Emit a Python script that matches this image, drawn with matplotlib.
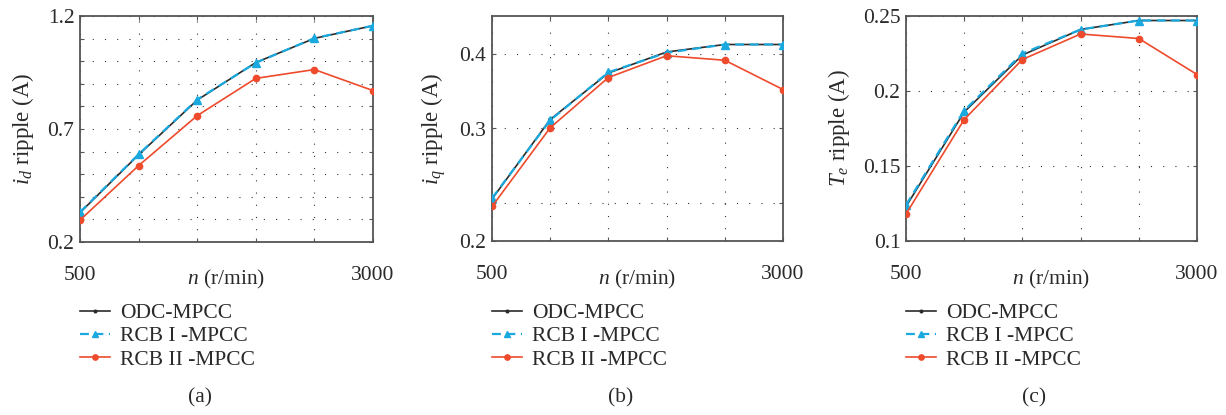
import numpy as np
import matplotlib
matplotlib.use("Agg")
import matplotlib.pyplot as plt

plt.rcParams["font.family"] = ["Liberation Serif", "DejaVu Serif"]
plt.rcParams["mathtext.fontset"] = "custom"
plt.rcParams["mathtext.rm"] = "Liberation Serif"
plt.rcParams["mathtext.it"] = "Liberation Serif:italic"

# speed (r/min)
speed = [500, 1000, 1500, 2000, 2500, 3000]
series_names = ["ODC-MPCC", "RCB I -MPCC", "RCB II -MPCC"]

# (a) i_d ripple
id_odc = [0.330, 0.586, 0.828, 0.994, 1.101, 1.157]
id_rcb1 = [0.332, 0.588, 0.830, 0.993, 1.102, 1.157]
id_rcb2 = [0.297, 0.538, 0.759, 0.924, 0.963, 0.870]

# (b) i_q ripple
iq_odc = [0.206, 0.312, 0.374, 0.402, 0.412, 0.412]
iq_rcb1 = [0.207, 0.311, 0.375, 0.401, 0.412, 0.412]
iq_rcb2 = [0.196, 0.301, 0.368, 0.397, 0.391, 0.352]

# (c) Te ripple
te_odc = [0.123, 0.186, 0.224, 0.241, 0.247, 0.247]
te_rcb1 = [0.124, 0.187, 0.225, 0.241, 0.247, 0.247]
te_rcb2 = [0.118, 0.181, 0.221, 0.238, 0.235, 0.211]

panels = [
    dict(data=(id_odc, id_rcb1, id_rcb2), ylabel=r"$i_d$ ripple (A)", caption="(a)",
         ylim=(0.2, 1.2), yticks=list(np.arange(0.2, 1.201, 0.1)),
         yticklabels=["0.2", "", "", "", "", "0.7", "", "", "", "", "1.2"]),
    dict(data=(iq_odc, iq_rcb1, iq_rcb2), ylabel=r"$i_q$ ripple (A)", caption="(b)",
         ylim=(0.15, 0.45), yticks=[0.15, 0.2, 0.3, 0.4],
         yticklabels=["0.2", "", "0.3", "0.4"]),
    dict(data=(te_odc, te_rcb1, te_rcb2), ylabel=r"$T_e$ ripple (A)", caption="(c)",
         ylim=(0.1, 0.25), yticks=[0.1, 0.15, 0.2, 0.25],
         yticklabels=["0.1", "0.15", "0.2", "0.25"]),
]

W, H = 1226, 415
txt = "#2a2a2a"
spine_c = "#555555"
c_black = "#2b2b2b"
c_blue = "#19a9df"
c_red = "#ee4a2c"
fs = 15.5

# axes boxes in pixels: left, right, top, bottom ; caption x
boxes = [(80, 373, 16, 242, 200), (492, 783, 16, 241, 621), (906, 1197, 16, 241, 1034)]

fig = plt.figure(figsize=(W / 100, H / 100), dpi=100)

for p, (l, r, t, b, capx) in zip(panels, boxes):
    ax = fig.add_axes([l / W, (H - b) / H, (r - l) / W, (b - t) / H])
    odc, rcb1, rcb2 = p["data"]
    h1, = ax.plot(speed, odc, color=c_black, lw=1.2, marker=".", ms=4.5, zorder=3)
    h2, = ax.plot(speed, rcb1, color=c_blue, lw=1.6, ls=(0, (4, 2.5)), marker="^",
                  ms=5.5, mfc=c_blue, mec=c_blue, zorder=4)
    h3, = ax.plot(speed, rcb2, color=c_red, lw=1.2, marker="o", ms=4.5, zorder=5)

    ax.set_xlim(500, 3000)
    ax.set_ylim(*p["ylim"])
    ax.set_xticks(speed)
    ax.set_xticklabels(["500", "", "", "", "", "3000"])
    ax.set_yticks(p["yticks"])
    ax.set_yticklabels(p["yticklabels"])
    ax.tick_params(direction="in", length=3, width=0.8, color=spine_c,
                   top=True, right=True, labelsize=fs, labelcolor=txt)
    ax.tick_params(axis="x", pad=17)
    ax.tick_params(axis="y", pad=4)
    ax.grid(True, color="#333333", lw=0.8, ls=(0, (1, 10)))
    for s in ax.spines.values():
        s.set_color(spine_c)
        s.set_linewidth(1.3)
    ax.set_ylabel(p["ylabel"], fontsize=16.5, color=txt, labelpad=8)

    cx = (l + r) / 2
    fig.text(cx / W, 1 - 279 / H, r"$n$ (r/min)", ha="center", va="center",
             fontsize=fs, color=txt)
    fig.text(capx / W, 1 - 398 / H, p["caption"], ha="center", va="center",
             fontsize=fs, color=txt)
    fig.legend([h1, h2, h3], series_names, loc="upper left",
               bbox_to_anchor=(l / W, 1 - 303 / H), bbox_transform=fig.transFigure,
               frameon=False, fontsize=fs, handlelength=1.4, handletextpad=0.45,
               labelspacing=0.15, borderpad=0, borderaxespad=0, labelcolor=txt,
               markerscale=0.85)

fig.savefig("out.png", dpi=100)
